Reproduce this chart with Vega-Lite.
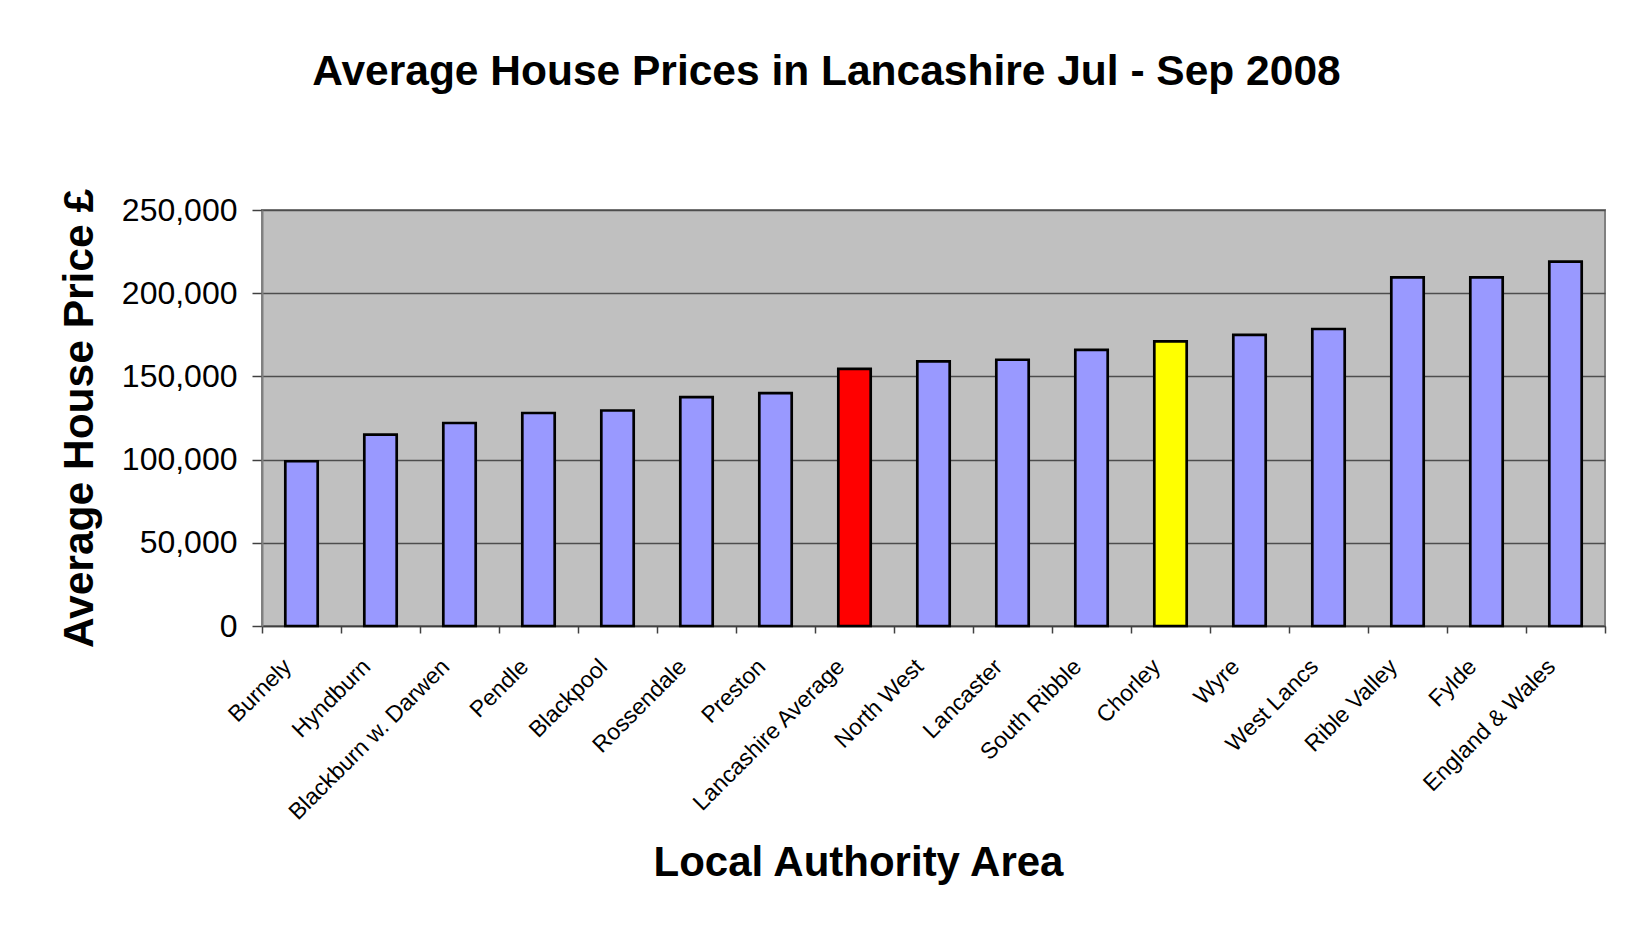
{
  "$schema": "https://vega.github.io/schema/vega-lite/v6.json",
  "width": 1343,
  "height": 416,
  "autosize": {"type": "none"},
  "padding": {"left": 262, "top": 210, "right": 30, "bottom": 301},
  "background": "white",
  "title": {
    "text": "Average House Prices in Lancashire Jul - Sep 2008",
    "font": "Liberation Sans",
    "fontSize": 42.5,
    "fontWeight": "bold",
    "color": "black",
    "anchor": "middle",
    "frame": "group",
    "baseline": "alphabetic",
    "dx": -107,
    "offset": 61
  },
  "data": {
    "values": [
      {"area": "Burnely", "price": 99000},
      {"area": "Hyndburn", "price": 115000},
      {"area": "Blackburn w. Darwen", "price": 122000},
      {"area": "Pendle", "price": 128000},
      {"area": "Blackpool", "price": 129500},
      {"area": "Rossendale", "price": 137500},
      {"area": "Preston", "price": 140000},
      {"area": "Lancashire Average", "price": 154500},
      {"area": "North West", "price": 159000},
      {"area": "Lancaster", "price": 160000},
      {"area": "South Ribble", "price": 166000},
      {"area": "Chorley", "price": 171000},
      {"area": "Wyre", "price": 175000},
      {"area": "West Lancs", "price": 178500},
      {"area": "Rible Valley", "price": 209500},
      {"area": "Fylde", "price": 209500},
      {"area": "England & Wales", "price": 219000}
    ]
  },
  "mark": {"type": "bar", "stroke": "black", "strokeWidth": 2.7, "width": {"band": 0.41}},
  "encoding": {
    "x": {
      "field": "area",
      "type": "nominal",
      "sort": null,
      "scale": {"paddingInner": 0, "paddingOuter": 0},
      "axis": {
        "title": "Local Authority Area",
        "titleFont": "Liberation Sans",
        "titleFontSize": 42,
        "titleFontWeight": "bold",
        "titleColor": "black",
        "titleX": 596,
        "titleY": 249,
        "titleAlign": "center",
        "titleBaseline": "alphabetic",
        "labelFont": "Liberation Sans",
        "labelFontSize": 23,
        "labelColor": "black",
        "labelAngle": -45,
        "labelAlign": "right",
        "labelBaseline": "top",
        "labelOffset": -22,
        "labelPadding": 22,
        "labelLimit": 0,
        "labelOverlap": false,
        "tickSize": 7,
        "tickBand": "extent",
        "tickColor": "#404040",
        "tickWidth": 1.5,
        "domainColor": "#404040",
        "domainWidth": 1.5,
        "grid": false
      }
    },
    "y": {
      "field": "price",
      "type": "quantitative",
      "scale": {"domain": [0, 250000], "nice": false},
      "axis": {
        "title": "Average House Price £",
        "titleFont": "Liberation Sans",
        "titleFontSize": 42.5,
        "titleFontWeight": "bold",
        "titleColor": "black",
        "titleAngle": -90,
        "titleX": -170,
        "titleY": 208,
        "titleAlign": "center",
        "titleBaseline": "alphabetic",
        "values": [0, 50000, 100000, 150000, 200000, 250000],
        "format": ",d",
        "labelFont": "Liberation Sans",
        "labelFontSize": 32,
        "labelColor": "black",
        "labelPadding": 15,
        "tickSize": 10,
        "tickColor": "#404040",
        "tickWidth": 1.5,
        "domainColor": "#808080",
        "domainWidth": 2,
        "grid": true,
        "gridColor": "#4d4d4d",
        "gridWidth": 1.3
      }
    },
    "fill": {
      "condition": [
        {"test": "datum.area === 'Lancashire Average'", "value": "#FF0000"},
        {"test": "datum.area === 'Chorley'", "value": "#FFFF00"}
      ],
      "value": "#9999FF"
    }
  },
  "config": {
    "view": {"fill": "#C0C0C0", "stroke": "#808080", "strokeWidth": 2}
  }
}
